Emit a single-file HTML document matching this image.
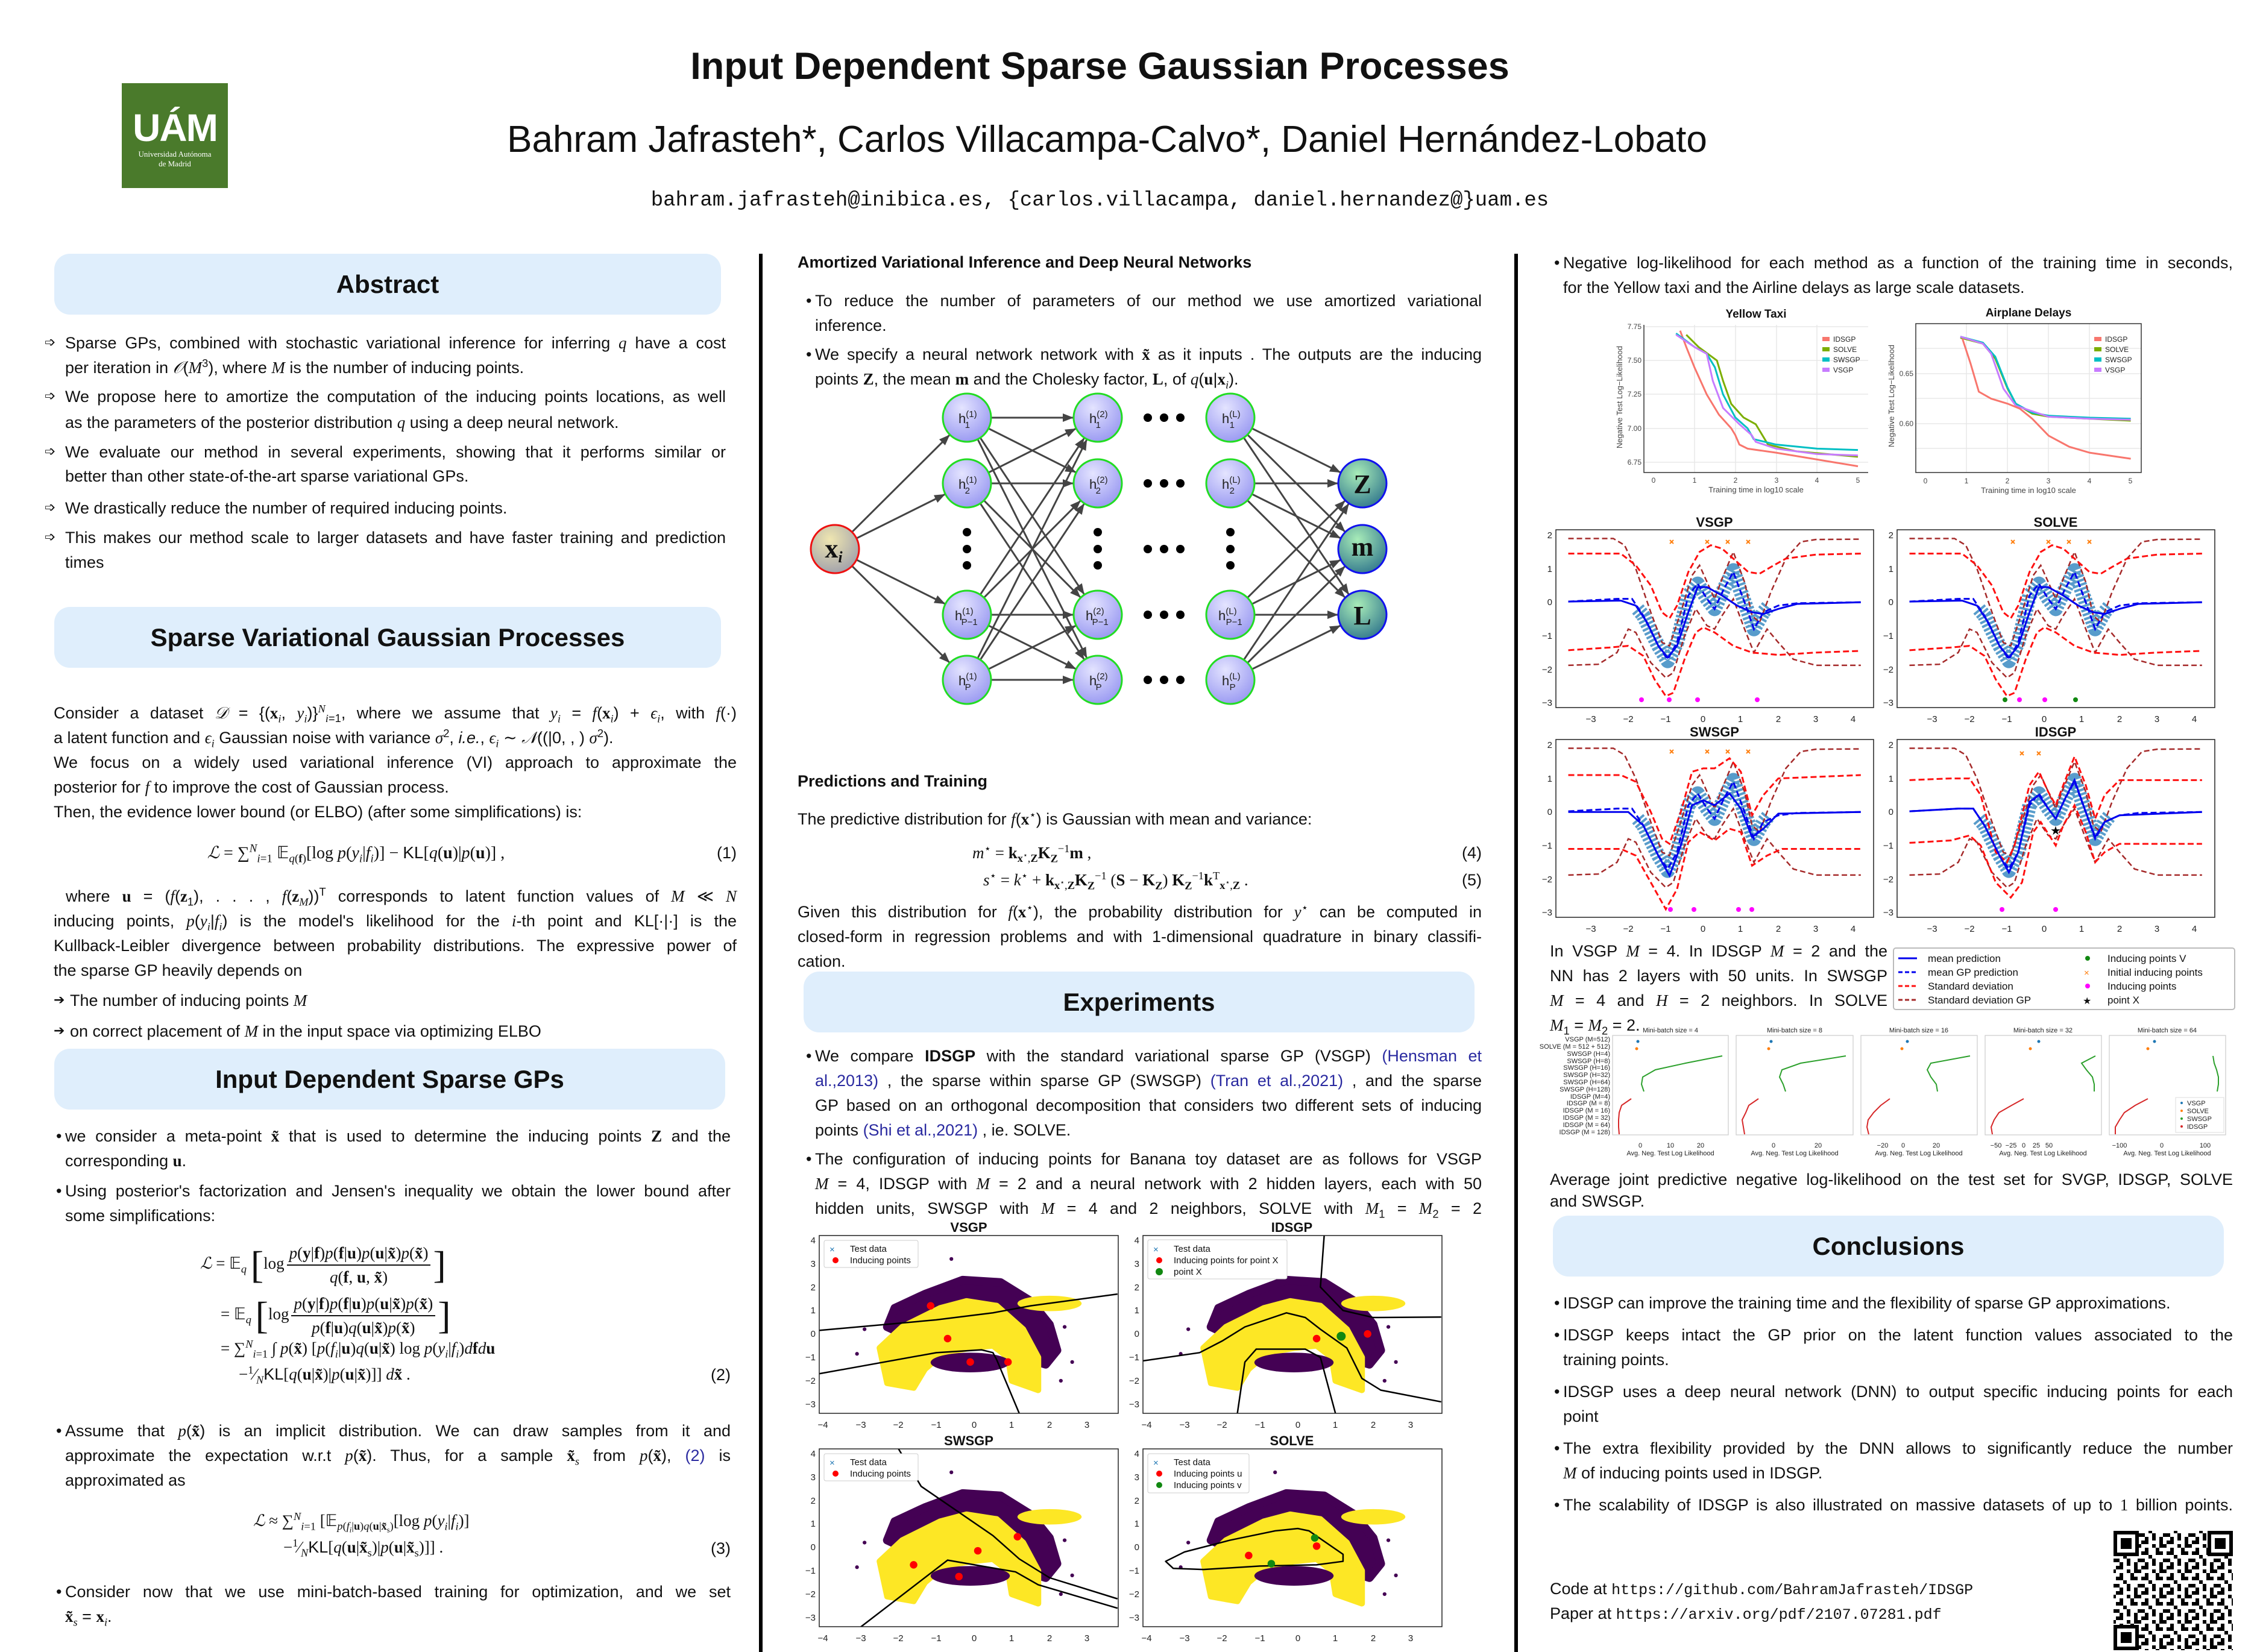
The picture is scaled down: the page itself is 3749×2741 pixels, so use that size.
<!DOCTYPE html>
<html><head><meta charset="utf-8">
<style>
html,body{margin:0;padding:0}
body{width:3749px;height:2741px;position:relative;overflow:hidden;background:#fff;font-family:"Liberation Sans",sans-serif;color:#111}
.a{position:absolute;white-space:nowrap}
.c{position:absolute}
.c>div{position:absolute;left:0;right:0;white-space:nowrap;font-size:27px;line-height:30px;height:30px}
.j{text-align:justify;text-align-last:justify}
.m{font-family:"Liberation Serif",serif;font-style:italic}
.mb{font-family:"Liberation Serif",serif;font-weight:bold}
.r{font-family:"Liberation Serif",serif}
.bl{position:absolute;left:-15px;top:0}
.ar{position:absolute;left:-34px;top:0;font-family:"DejaVu Sans",sans-serif;font-size:22px}
.box{position:absolute;background:#dfeefc;border-radius:26px;text-align:center;font-weight:bold;font-size:42px}
.lk{color:#2a2aa0}
.h{position:absolute;font-weight:bold;font-size:27px;white-space:nowrap}
sub,sup{font-size:0.68em;line-height:0}
.eq{position:absolute;white-space:nowrap;font-size:27px;font-family:"Liberation Serif",serif}
.fr{display:inline-flex;flex-direction:column;align-items:center;vertical-align:middle;margin:0 4px}
.fr>span{display:block;padding:0 4px;line-height:38px}
.fr>span:first-child{border-bottom:2px solid #111}
.big{font-size:64px;font-weight:100;vertical-align:middle;line-height:40px}
</style></head><body>

<!-- header -->
<div style="position:absolute;left:202px;top:138px;width:176px;height:174px;background:#4a7a2b;color:#fff;text-align:center;font-family:'Liberation Serif',serif">
<div style="font-family:'Liberation Sans',sans-serif;font-weight:bold;font-size:64px;margin-top:42px;line-height:64px;letter-spacing:-2px">UÁM</div>
<div style="font-size:13px;line-height:16px;margin-top:4px">Universidad Autónoma<br>de Madrid</div>
</div>
<div class="a" style="left:0;width:3749px;top:74px;text-align:center;font-size:63px;font-weight:bold"><span style="position:relative;left:-50px">Input Dependent Sparse Gaussian Processes</span></div>
<div class="a" style="left:0;width:3749px;top:196px;text-align:center;font-size:62px"><span style="position:relative;left:-38px">Bahram Jafrasteh*, Carlos Villacampa-Calvo*, Daniel Hernández-Lobato</span></div>
<div class="a" style="left:0;width:3749px;top:314px;text-align:center;font-size:34px;font-family:'Liberation Mono',monospace"><span style="position:relative;left:-50px">bahram.jafrasteh@inibica.es, {carlos.villacampa, daniel.hernandez@}uam.es</span></div>

<!-- dividers -->
<div style="position:absolute;left:1259px;top:421px;width:6px;height:2320px;background:#000"></div>
<div style="position:absolute;left:2512px;top:421px;width:6px;height:2320px;background:#000"></div>

<!-- ===== Column 1 ===== -->
<div class="box" style="left:90px;top:421px;width:1106px;height:101px;line-height:101px">Abstract</div>
<div class="c" style="left:108px;width:1096px;top:0">
<div class="j" style="top:554px"><span class="ar">➩</span>Sparse GPs, combined with stochastic variational inference for inferring <span class="m">q</span> have a cost</div>
<div style="top:595px">per iteration in <span class="m">𝒪</span>(<span class="m">M</span><sup>3</sup>), where <span class="m">M</span> is the number of inducing points.</div>
<div class="j" style="top:643px"><span class="ar">➩</span>We propose here to amortize the computation of the inducing points locations, as well</div>
<div style="top:686px">as the parameters of the posterior distribution <span class="m">q</span> using a deep neural network.</div>
<div class="j" style="top:735px"><span class="ar">➩</span>We evaluate our method in several experiments, showing that it performs similar or</div>
<div style="top:775px">better than other state-of-the-art sparse variational GPs.</div>
<div style="top:828px"><span class="ar">➩</span>We drastically reduce the number of required inducing points.</div>
<div class="j" style="top:877px"><span class="ar">➩</span>This makes our method scale to larger datasets and have faster training and prediction</div>
<div style="top:918px">times</div>
</div>

<div class="box" style="left:90px;top:1007px;width:1106px;height:101px;line-height:101px">Sparse Variational Gaussian Processes</div>
<div class="c" style="left:89px;width:1133px;top:0">
<div class="j" style="top:1168px">Consider a dataset <span class="m">𝒟</span> = {(<b class="mb">x</b><sub class="m">i</sub>, <span class="m">y<sub>i</sub></span>)}<sup class="m">N</sup><sub><span class="m">i</span>=1</sub>, where we assume that <span class="m">y<sub>i</sub></span> = <span class="m">f</span>(<b class="mb">x</b><sub class="m">i</sub>) + <span class="m">ϵ<sub>i</sub></span>, with <span class="m">f</span>(·)</div>
<div style="top:1209px">a latent function and <span class="m">ϵ<sub>i</sub></span> Gaussian noise with variance <span class="m">σ</span><sup>2</sup>, <i>i.e.</i>, <span class="m">ϵ<sub>i</sub></span> ∼ <span class="m">𝒩</span>((|0, , ) <span class="m">σ</span><sup>2</sup>).</div>
<div class="j" style="top:1250px">We focus on a widely used variational inference (VI) approach to approximate the</div>
<div style="top:1291px">posterior for <span class="m">f</span> to improve the cost of Gaussian process.</div>
<div style="top:1332px">Then, the evidence lower bound (or ELBO) (after some simplifications) is:</div>
<div style="top:1400px;text-align:center;left:-130px;font-family:'Liberation Serif',serif;font-size:28px"><span class="m">ℒ</span> = ∑<sup class="m">N</sup><sub><span class="m">i</span>=1</sub> 𝔼<sub><span class="m">q</span>(<b>f</b>)</sub>[log <span class="m">p</span>(<span class="m">y<sub>i</sub></span>|<span class="m">f<sub>i</sub></span>)] − <span style="font-family:'Liberation Sans'">KL</span>[<span class="m">q</span>(<b>u</b>)|<span class="m">p</span>(<b>u</b>)] ,</div>
<div style="top:1400px;text-align:right">(1)</div>
<div class="j" style="top:1472px">&nbsp;where <b class="mb">u</b> = (<span class="m">f</span>(<b class="mb">z</b><sub>1</sub>), . . . , <span class="m">f</span>(<b class="mb">z</b><sub class="m">M</sub>))<sup>T</sup> corresponds to latent function values of <span class="m">M</span> ≪ <span class="m">N</span></div>
<div class="j" style="top:1513px">inducing points, <span class="m">p</span>(<span class="m">y<sub>i</sub></span>|<span class="m">f<sub>i</sub></span>) is the model's likelihood for the <span class="m">i</span>-th point and KL[·|·] is the</div>
<div class="j" style="top:1554px">Kullback-Leibler divergence between probability distributions. The expressive power of</div>
<div style="top:1595px">the sparse GP heavily depends on</div>
<div style="top:1645px;left:27px"><span class="ar" style="left:-27px">➔</span>The number of inducing points <span class="m">M</span></div>
<div style="top:1696px;left:27px"><span class="ar" style="left:-27px">➔</span>on correct placement of <span class="m">M</span> in the input space via optimizing ELBO</div>
</div>

<div class="box" style="left:90px;top:1740px;width:1113px;height:101px;line-height:101px">Input Dependent Sparse GPs</div>
<div class="c" style="left:108px;width:1104px;top:0">
<div class="j" style="top:1870px"><span class="bl">•</span>we consider a meta-point <b class="mb">x̃</b> that is used to determine the inducing points <b class="mb">Z</b> and the</div>
<div style="top:1911px">corresponding <b class="mb">u</b>.</div>
<div class="j" style="top:1961px"><span class="bl">•</span>Using posterior's factorization and Jensen's inequality we obtain the lower bound after</div>
<div style="top:2002px">some simplifications:</div>
<div class="j" style="top:2359px"><span class="bl">•</span>Assume that <span class="m">p</span>(<b class="mb">x̃</b>) is an implicit distribution. We can draw samples from it and</div>
<div class="j" style="top:2400px">approximate the expectation w.r.t <span class="m">p</span>(<b class="mb">x̃</b>). Thus, for a sample <b class="mb">x̃</b><sub class="m">s</sub> from <span class="m">p</span>(<b class="mb">x̃</b>), <span class="lk">(2)</span> is</div>
<div style="top:2441px">approximated as</div>
<div style="top:2554px;text-align:right">(3)</div>
<div class="j" style="top:2626px"><span class="bl">•</span>Consider now that we use mini-batch-based training for optimization, and we set</div>
<div style="top:2667px"><b class="mb">x̃</b><sub class="m">s</sub> = <b class="mb">x</b><sub class="m">i</sub>.</div>
<div style="top:2266px;text-align:right">(2)</div>
</div>
<!-- eq 2 -->
<div class="eq" style="left:332px;top:2060px"><span class="m">ℒ</span> = 𝔼<sub class="m">q</sub> <span class="big">[</span>log<span class="fr"><span><span class="m">p</span>(<b>y</b>|<b>f</b>)<span class="m">p</span>(<b>f</b>|<b>u</b>)<span class="m">p</span>(<b>u</b>|<b>x̃</b>)<span class="m">p</span>(<b>x̃</b>)</span><span><span class="m">q</span>(<b>f</b>, <b>u</b>, <b>x̃</b>)</span></span><span class="big">]</span></div>
<div class="eq" style="left:366px;top:2144px">= 𝔼<sub class="m">q</sub> <span class="big">[</span>log<span class="fr"><span><span class="m">p</span>(<b>y</b>|<b>f</b>)<span class="m">p</span>(<b>f</b>|<b>u</b>)<span class="m">p</span>(<b>u</b>|<b>x̃</b>)<span class="m">p</span>(<b>x̃</b>)</span><span><span class="m">p</span>(<b>f</b>|<b>u</b>)<span class="m">q</span>(<b>u</b>|<b>x̃</b>)<span class="m">p</span>(<b>x̃</b>)</span></span><span class="big">]</span></div>
<div class="eq" style="left:366px;top:2222px">= ∑<sup class="m">N</sup><sub><span class="m">i</span>=1</sub> ∫ <span class="m">p</span>(<b>x̃</b>) [<span class="m">p</span>(<span class="m">f<sub>i</sub></span>|<b>u</b>)<span class="m">q</span>(<b>u</b>|<b>x̃</b>) log <span class="m">p</span>(<span class="m">y<sub>i</sub></span>|<span class="m">f<sub>i</sub></span>)<span class="m">d</span><b>f</b><span class="m">d</span><b>u</b></div>
<div class="eq" style="left:396px;top:2265px">−<sup>1</sup>⁄<sub class="m">N</sub><span style="font-family:'Liberation Sans'">KL</span>[<span class="m">q</span>(<b>u</b>|<b>x̃</b>)|<span class="m">p</span>(<b>u</b>|<b>x̃</b>)]] <span class="m">d</span><b>x̃</b> .</div>
<!-- eq 3 -->
<div class="eq" style="left:420px;top:2508px"><span class="m">ℒ</span> ≈ ∑<sup class="m">N</sup><sub><span class="m">i</span>=1</sub> [𝔼<sub><span class="m">p</span>(<span class="m">f<sub>i</sub></span>|<b>u</b>)<span class="m">q</span>(<b>u</b>|<b>x̃</b><sub>s</sub>)</sub>[log <span class="m">p</span>(<span class="m">y<sub>i</sub></span>|<span class="m">f<sub>i</sub></span>)]</div>
<div class="eq" style="left:470px;top:2552px">−<sup>1</sup>⁄<sub class="m">N</sub><span style="font-family:'Liberation Sans'">KL</span>[<span class="m">q</span>(<b>u</b>|<b>x̃</b><sub>s</sub>)|<span class="m">p</span>(<b>u</b>|<b>x̃</b><sub>s</sub>)]] .</div>

<!-- ===== Column 2 ===== -->
<div class="h" style="left:1323px;top:420px">Amortized Variational Inference and Deep Neural Networks</div>
<div class="c" style="left:1352px;width:1106px;top:0">
<div class="j" style="top:484px"><span class="bl">•</span>To reduce the number of parameters of our method we use amortized variational</div>
<div style="top:525px">inference.</div>
<div class="j" style="top:573px"><span class="bl">•</span>We specify a neural network network with <b class="mb">x̃</b> as it inputs . The outputs are the inducing</div>
<div style="top:614px">points <b class="mb">Z</b>, the mean <b class="mb">m</b> and the Cholesky factor, <b class="mb">L</b>, of <span class="m">q</span>(<b class="mb">u</b>|<b class="mb">x</b><sub class="m">i</sub>).</div>
</div>
<div class="h" style="left:1323px;top:1281px">Predictions and Training</div>
<div class="c" style="left:1323px;width:1135px;top:0">
<div style="top:1344px">The predictive distribution for <span class="m">f</span>(<b class="mb">x</b><sup>⋆</sup>) is Gaussian with mean and variance:</div>
<div style="top:1400px;left:290px;font-family:'Liberation Serif',serif"><span class="m">m</span><sup>⋆</sup> = <b>k</b><sub><b>x</b><sup>⋆</sup>,<b>Z</b></sub><b>K</b><sub><b>Z</b></sub><sup>−1</sup><b>m</b> ,</div>
<div style="top:1400px;text-align:right">(4)</div>
<div style="top:1445px;left:308px;font-family:'Liberation Serif',serif"><span class="m">s</span><sup>⋆</sup> = <span class="m">k</span><sup>⋆</sup> + <b>k</b><sub><b>x</b><sup>⋆</sup>,<b>Z</b></sub><b>K</b><sub><b>Z</b></sub><sup>−1</sup> (<b>S</b> − <b>K</b><sub><b>Z</b></sub>) <b>K</b><sub><b>Z</b></sub><sup>−1</sup><b>k</b><sup>T</sup><sub><b>x</b><sup>⋆</sup>,<b>Z</b></sub> .</div>
<div style="top:1445px;text-align:right">(5)</div>
<div class="j" style="top:1498px">Given this distribution for <span class="m">f</span>(<b class="mb">x</b><sup>⋆</sup>), the probability distribution for <span class="m">y</span><sup>⋆</sup> can be computed in</div>
<div class="j" style="top:1539px">closed-form in regression problems and with 1-dimensional quadrature in binary classifi-</div>
<div style="top:1580px">cation.</div>
</div>
<div class="box" style="left:1333px;top:1612px;width:1113px;height:101px;line-height:101px">Experiments</div>
<div class="c" style="left:1352px;width:1106px;top:0">
<div class="j" style="top:1737px"><span class="bl">•</span>We compare <b>IDSGP</b> with the standard variational sparse GP (VSGP) <span class="lk">(Hensman et</span></div>
<div class="j" style="top:1778px"><span class="lk">al.,2013)</span> , the sparse within sparse GP (SWSGP) <span class="lk">(Tran et al.,2021)</span> , and the sparse</div>
<div class="j" style="top:1819px">GP based on an orthogonal decomposition that considers two different sets of inducing</div>
<div style="top:1860px">points <span class="lk">(Shi et al.,2021)</span> , ie. SOLVE.</div>
<div class="j" style="top:1908px"><span class="bl">•</span>The configuration of inducing points for Banana toy dataset are as follows for VSGP</div>
<div class="j" style="top:1949px"><span class="m">M</span> = 4, IDSGP with <span class="m">M</span> = 2 and a neural network with 2 hidden layers, each with 50</div>
<div class="j" style="top:1990px">hidden units, SWSGP with <span class="m">M</span> = 4 and 2 neighbors, SOLVE with <span class="m">M</span><sub>1</sub> = <span class="m">M</span><sub>2</sub> = 2</div>
</div>

<!-- ===== Column 3 ===== -->
<div class="c" style="left:2593px;width:1111px;top:0">
<div class="j" style="top:421px"><span class="bl">•</span>Negative log-likelihood for each method as a function of the training time in seconds,</div>
<div style="top:462px">for the Yellow taxi and the Airline delays as large scale datasets.</div>
</div>
<div class="c" style="left:2571px;width:560px;top:0">
<div class="j" style="top:1563px">In VSGP <span class="m">M</span> = 4. In IDSGP <span class="m">M</span> = 2 and the</div>
<div class="j" style="top:1604px">NN has 2 layers with 50 units. In SWSGP</div>
<div class="j" style="top:1645px"><span class="m">M</span> = 4 and <span class="m">H</span> = 2 neighbors. In SOLVE</div>
<div style="top:1686px"><span class="m">M</span><sub>1</sub> = <span class="m">M</span><sub>2</sub> = 2.</div>
</div>
<div class="c" style="left:2571px;width:1133px;top:0">
<div class="j" style="top:1942px">Average joint predictive negative log-likelihood on the test set for SVGP, IDSGP, SOLVE</div>
<div style="top:1978px">and SWSGP.</div>
</div>
<div class="box" style="left:2576px;top:2017px;width:1113px;height:101px;line-height:101px">Conclusions</div>
<div class="c" style="left:2593px;width:1111px;top:0">
<div style="top:2147px"><span class="bl">•</span>IDSGP can improve the training time and the flexibility of sparse GP approximations.</div>
<div class="j" style="top:2200px"><span class="bl">•</span>IDSGP keeps intact the GP prior on the latent function values associated to the</div>
<div style="top:2241px">training points.</div>
<div class="j" style="top:2294px"><span class="bl">•</span>IDSGP uses a deep neural network (DNN) to output specific inducing points for each</div>
<div style="top:2335px">point</div>
<div class="j" style="top:2388px"><span class="bl">•</span>The extra flexibility provided by the DNN allows to significantly reduce the number</div>
<div style="top:2429px"><span class="m">M</span> of inducing points used in IDSGP.</div>
<div class="j" style="top:2482px"><span class="bl">•</span>The scalability of IDSGP is also illustrated on massive datasets of up to <span class="r">1</span> billion points.</div>
</div>
<div class="a" style="left:2571px;top:2621px;font-size:27px">Code at <span style="font-family:'Liberation Mono',monospace;font-size:25px">https://github.com/BahramJafrasteh/IDSGP</span></div>
<div class="a" style="left:2571px;top:2662px;font-size:27px">Paper at <span style="font-family:'Liberation Mono',monospace;font-size:25px">https://arxiv.org/pdf/2107.07281.pdf</span></div>

<!-- ===== Graphics ===== -->
<svg style="position:absolute;left:0;top:0" width="3749" height="2741" viewBox="0 0 3749 2741" font-family="Liberation Sans, sans-serif">
<defs>
<marker id="ah" markerUnits="userSpaceOnUse" markerWidth="20" markerHeight="14" refX="58" refY="7" orient="auto" overflow="visible"><path d="M0,0 L18,7 L0,14 z" fill="#444"/></marker>
<radialGradient id="gh" cx="40%" cy="30%" r="70%"><stop offset="0" stop-color="#e4e4ff"/><stop offset="1" stop-color="#9c9cf2"/></radialGradient>
<radialGradient id="gx" cx="40%" cy="30%" r="70%"><stop offset="0" stop-color="#efe6b0"/><stop offset="1" stop-color="#a4a4ac"/></radialGradient>
<radialGradient id="go" cx="40%" cy="30%" r="70%"><stop offset="0" stop-color="#a8ecb8"/><stop offset="1" stop-color="#3a8090"/></radialGradient>
<pattern id="qr" width="42" height="42" patternUnits="userSpaceOnUse"><rect width="42" height="42" fill="#fff"/><g fill="#000"><rect x="0" y="0" width="6" height="6"/><rect x="12" y="0" width="12" height="6"/><rect x="30" y="6" width="6" height="12"/><rect x="6" y="12" width="12" height="6"/><rect x="0" y="24" width="6" height="12"/><rect x="18" y="24" width="12" height="6"/><rect x="36" y="18" width="6" height="6"/><rect x="12" y="30" width="6" height="12"/><rect x="24" y="36" width="12" height="6"/><rect x="30" y="30" width="6" height="6"/><rect x="6" y="6" width="6" height="6"/><rect x="24" y="12" width="6" height="6"/></g></pattern>

<symbol id="gpbase" viewBox="-3.93 -2.16 8.47 5.3" preserveAspectRatio="none">
<polyline points="-1.75,0.2 -1.6,0.4 -1.2,1.3 -0.95,1.75 -0.7,1.2 -0.4,-0.2 -0.15,-0.55 0.1,-0.1 0.3,0.2 0.55,-0.4 0.8,-0.95 1.1,0 1.35,0.8 1.6,0.3 1.75,0.1" fill="none" stroke="#3b8bc2" stroke-width="24" stroke-dasharray="4 3" stroke-opacity="0.85" vector-effect="non-scaling-stroke" stroke-linejoin="round"/>
<polyline points="-3.6,-1.9 -2.4,-1.9 -2.1,-1.7 -1.8,-1 -1.4,0.3 -1.1,1.2 -0.9,1.3 -0.6,0.3 -0.3,-0.8 -0.1,-1.1 0.1,-0.6 0.3,-0.1 0.5,-0.7 0.8,-1.5 1.1,-0.6 1.3,0.4 1.5,0.6 1.8,-0.3 2.2,-1.3 2.6,-1.8 3,-1.87 4.2,-1.88" fill="none" stroke="#a52a2a" stroke-width="2.5" stroke-dasharray="9 5" vector-effect="non-scaling-stroke"/>
<polyline points="-3.6,1.88 -2.8,1.85 -2.3,1.5 -2,0.8 -1.8,0.9 -1.4,1.8 -1,2.25 -0.8,2.1 -0.5,1 -0.2,0.2 0.1,0.7 0.3,0.8 0.5,0.4 0.8,-0.1 1.1,0.8 1.35,1.5 1.5,1.2 1.7,0.8 2,1.2 2.4,1.7 3,1.88 4.2,1.88" fill="none" stroke="#a52a2a" stroke-width="2.5" stroke-dasharray="9 5" vector-effect="non-scaling-stroke"/>
<polyline points="-3.6,-0.02 -2.3,-0.1 -1.9,-0.1 -1.6,0.4 -1.2,1.3 -0.95,1.7 -0.7,1.2 -0.4,-0.2 -0.15,-0.55 0.1,-0.1 0.3,0.2 0.55,-0.4 0.8,-0.9 1.1,0 1.35,0.8 1.6,0.3 2,0.1 2.5,0.03 4.2,0" fill="none" stroke="#0000ee" stroke-width="3" stroke-dasharray="10 5" vector-effect="non-scaling-stroke"/>
</symbol>
<symbol id="gpA" viewBox="-3.93 -2.16 8.47 5.3" preserveAspectRatio="none">
<polyline points="-3.6,-1.45 -2.2,-1.45 -1.8,-1.1 -1.4,-0.5 -1.1,0.3 -0.9,0.48 -0.7,0.1 -0.4,-0.9 -0.1,-1.5 0.2,-1.7 0.5,-1.6 0.9,-1.2 1.2,-0.9 1.5,-0.85 1.8,-1.05 2.2,-1.3 3,-1.42 4.2,-1.45" fill="none" stroke="#ff1010" stroke-width="3" stroke-dasharray="10 5" vector-effect="non-scaling-stroke"/>
<polyline points="-3.6,1.43 -2.5,1.35 -2,1.3 -1.6,1.6 -1.3,2.3 -1,2.8 -0.8,2.7 -0.5,1.7 -0.2,0.9 0,0.75 0.3,0.9 0.8,1.3 1.3,1.5 2,1.57 3,1.5 4.2,1.45" fill="none" stroke="#ff1010" stroke-width="3" stroke-dasharray="10 5" vector-effect="non-scaling-stroke"/>
<polyline points="-3.6,-0.02 -2.2,-0.05 -1.8,0.1 -1.5,0.6 -1.2,1.3 -0.95,1.65 -0.7,1.3 -0.4,0.3 -0.15,-0.45 0.1,-0.45 0.5,-0.2 0.9,0.1 1.3,0.3 1.6,0.35 2,0.2 2.5,0.05 4.2,0" fill="none" stroke="#0000ee" stroke-width="3" vector-effect="non-scaling-stroke"/>
</symbol>
<symbol id="gpS" viewBox="-3.93 -2.16 8.47 5.3" preserveAspectRatio="none">
<polyline points="-3.6,-1.1 -2.2,-1.1 -1.8,-0.9 -1.4,0 -1.1,0.8 -0.9,0.95 -0.6,0 -0.3,-1.2 0,-1.3 0.3,-1.3 0.7,-1.6 1,-1.2 1.3,0.1 1.6,-0.5 2,-1 4.2,-1.1" fill="none" stroke="#ff1010" stroke-width="3" stroke-dasharray="10 5" vector-effect="non-scaling-stroke"/>
<polyline points="-3.6,1.1 -2.2,1.1 -1.8,1.3 -1.4,2.1 -1,2.9 -0.7,2.3 -0.4,0.9 -0.1,0.6 0.3,0.85 0.7,0.5 1,0.6 1.3,1.6 1.7,1.3 2.1,1.1 4.2,1.1" fill="none" stroke="#ff1010" stroke-width="3" stroke-dasharray="10 5" vector-effect="non-scaling-stroke"/>
<polyline points="-3.6,0 -2,0 -1.6,0.4 -1.2,1.3 -0.9,1.9 -0.6,1 -0.3,-0.2 0,-0.35 0.3,-0.2 0.7,-0.55 1,-0.1 1.3,0.75 1.6,0.5 2,0.05 4.2,0" fill="none" stroke="#0000ee" stroke-width="3" vector-effect="non-scaling-stroke"/>
</symbol>
<symbol id="gpI" viewBox="-3.93 -2.16 8.47 5.3" preserveAspectRatio="none">
<polyline points="-3.6,-0.95 -2.5,-1 -2,-1 -1.7,-0.5 -1.3,1.2 -1,1.5 -0.8,1 -0.4,-0.8 -0.15,-1.2 0.1,-0.6 0.3,-0.2 0.5,-0.8 0.8,-1.65 1.1,-0.8 1.35,0.2 1.6,-0.5 2,-0.95 4.2,-0.95" fill="none" stroke="#ff1010" stroke-width="3" stroke-dasharray="10 5" vector-effect="non-scaling-stroke"/>
<polyline points="-3.6,0.92 -2.5,0.85 -2,0.7 -1.7,1 -1.3,2.1 -0.9,2.55 -0.6,2.1 -0.3,0.6 -0.1,0.3 0.3,1 0.5,0.4 0.8,-0.2 1.1,0.6 1.35,1.5 1.6,1.2 2,0.95 4.2,0.95" fill="none" stroke="#ff1010" stroke-width="3" stroke-dasharray="10 5" vector-effect="non-scaling-stroke"/>
<polyline points="-3.6,-0.02 -2.3,-0.1 -1.9,-0.1 -1.6,0.4 -1.2,1.3 -0.95,1.8 -0.7,1.2 -0.4,-0.3 -0.15,-0.5 0.1,-0.1 0.3,0.2 0.55,-0.4 0.8,-0.95 1.1,0 1.35,0.75 1.6,0.3 2,0.1 4.2,0" fill="none" stroke="#0000ee" stroke-width="3" vector-effect="non-scaling-stroke"/>
</symbol>
<g id="gpax" font-size="15" fill="#222">
<rect x="0" y="0" width="527" height="295" fill="none" stroke="#222" stroke-width="1.5"/>
<text x="58" y="319" text-anchor="middle">−3</text><text x="120" y="319" text-anchor="middle">−2</text><text x="182" y="319" text-anchor="middle">−1</text><text x="244" y="319" text-anchor="middle">0</text><text x="306" y="319" text-anchor="middle">1</text><text x="369" y="319" text-anchor="middle">2</text><text x="431" y="319" text-anchor="middle">3</text><text x="493" y="319" text-anchor="middle">4</text>
<text x="-6" y="14" text-anchor="end">2</text><text x="-6" y="70" text-anchor="end">1</text><text x="-6" y="125" text-anchor="end">0</text><text x="-6" y="181" text-anchor="end">−1</text><text x="-6" y="237" text-anchor="end">−2</text><text x="-6" y="292" text-anchor="end">−3</text>
</g>

<symbol id="ban" viewBox="-4.1 -4.2 7.92 7.59" preserveAspectRatio="none">
<polygon points="-2.3,-0.3 -2.1,-1.1 -1.3,-1.7 -0.3,-2.3 0.7,-2.2 1.5,-1.4 2.0,-0.4 2.2,0.7 1.9,1.3 1.3,1.0 0.5,0.3 -1.5,0.3" fill="#440154" stroke="#440154" stroke-width="14" stroke-linejoin="round" vector-effect="non-scaling-stroke"/>
<polygon points="-2.3,2.1 -2.5,0.6 -1.9,-0.3 -0.9,-1.1 -0.2,-1.4 0.6,-1.2 1.3,-0.2 1.7,1.0 1.7,2.4 1.0,2.0 0.9,1.0 0.5,0.5 -0.1,0.6 -0.8,0.8 -1.3,1.5 -1.6,2.3" fill="#fde725" stroke="#fde725" stroke-width="10" stroke-linejoin="round" vector-effect="non-scaling-stroke"/>
<ellipse cx="2.0" cy="-1.3" rx="0.85" ry="0.33" fill="#fde725"/>
<ellipse cx="-0.1" cy="1.22" rx="1.05" ry="0.42" fill="#440154"/>
<g fill="#440154"><ellipse cx="-3.1" cy="0.85" rx="0.05" ry="0.08"/><ellipse cx="2.3" cy="2" rx="0.05" ry="0.08"/><ellipse cx="2.6" cy="1.2" rx="0.05" ry="0.08"/><ellipse cx="-0.6" cy="-3.2" rx="0.05" ry="0.08"/><ellipse cx="-2.9" cy="-0.2" rx="0.05" ry="0.08"/><ellipse cx="2.4" cy="-0.3" rx="0.05" ry="0.08"/></g>
</symbol>
<g id="banax" font-size="15" fill="#222">
<rect x="0" y="0" width="496" height="295" fill="none" stroke="#222" stroke-width="1.5"/>
<text x="6" y="319" text-anchor="middle">−4</text><text x="69" y="319" text-anchor="middle">−3</text><text x="131" y="319" text-anchor="middle">−2</text><text x="194" y="319" text-anchor="middle">−1</text><text x="257" y="319" text-anchor="middle">0</text><text x="319" y="319" text-anchor="middle">1</text><text x="382" y="319" text-anchor="middle">2</text><text x="444" y="319" text-anchor="middle">3</text>
<text x="-6" y="13" text-anchor="end">4</text><text x="-6" y="52" text-anchor="end">3</text><text x="-6" y="91" text-anchor="end">2</text><text x="-6" y="129" text-anchor="end">1</text><text x="-6" y="168" text-anchor="end">0</text><text x="-6" y="207" text-anchor="end">−1</text><text x="-6" y="246" text-anchor="end">−2</text><text x="-6" y="285" text-anchor="end">−3</text>
</g>
</defs>

<!-- Network -->
<g stroke="#444" stroke-width="3" marker-end="url(#ah)">
<line x1="1385" y1="911" x2="1604" y2="693"/><line x1="1385" y1="911" x2="1604" y2="802"/><line x1="1385" y1="911" x2="1604" y2="1020"/><line x1="1385" y1="911" x2="1604" y2="1128"/>
<line x1="1604" y1="693" x2="1821" y2="693"/><line x1="1604" y1="693" x2="1821" y2="802"/><line x1="1604" y1="693" x2="1821" y2="1020"/><line x1="1604" y1="693" x2="1821" y2="1128"/>
<line x1="1604" y1="802" x2="1821" y2="693"/><line x1="1604" y1="802" x2="1821" y2="802"/><line x1="1604" y1="802" x2="1821" y2="1020"/><line x1="1604" y1="802" x2="1821" y2="1128"/>
<line x1="1604" y1="1020" x2="1821" y2="693"/><line x1="1604" y1="1020" x2="1821" y2="802"/><line x1="1604" y1="1020" x2="1821" y2="1020"/><line x1="1604" y1="1020" x2="1821" y2="1128"/>
<line x1="1604" y1="1128" x2="1821" y2="693"/><line x1="1604" y1="1128" x2="1821" y2="802"/><line x1="1604" y1="1128" x2="1821" y2="1020"/><line x1="1604" y1="1128" x2="1821" y2="1128"/>
<line x1="2041" y1="693" x2="2260" y2="802"/><line x1="2041" y1="693" x2="2260" y2="911"/><line x1="2041" y1="693" x2="2260" y2="1020"/>
<line x1="2041" y1="802" x2="2260" y2="802"/><line x1="2041" y1="802" x2="2260" y2="911"/><line x1="2041" y1="802" x2="2260" y2="1020"/>
<line x1="2041" y1="1020" x2="2260" y2="802"/><line x1="2041" y1="1020" x2="2260" y2="911"/><line x1="2041" y1="1020" x2="2260" y2="1020"/>
<line x1="2041" y1="1128" x2="2260" y2="802"/><line x1="2041" y1="1128" x2="2260" y2="911"/><line x1="2041" y1="1128" x2="2260" y2="1020"/>
</g>
<g stroke="#22dd22" stroke-width="3" fill="url(#gh)">
<circle cx="1604" cy="693" r="40"/><circle cx="1604" cy="802" r="40"/><circle cx="1604" cy="1020" r="40"/><circle cx="1604" cy="1128" r="40"/>
<circle cx="1821" cy="693" r="40"/><circle cx="1821" cy="802" r="40"/><circle cx="1821" cy="1020" r="40"/><circle cx="1821" cy="1128" r="40"/>
<circle cx="2041" cy="693" r="40"/><circle cx="2041" cy="802" r="40"/><circle cx="2041" cy="1020" r="40"/><circle cx="2041" cy="1128" r="40"/>
</g>
<circle cx="1385" cy="911" r="40" fill="url(#gx)" stroke="#ee1111" stroke-width="3"/>
<g stroke="#1111ee" stroke-width="3" fill="url(#go)"><circle cx="2260" cy="802" r="40"/><circle cx="2260" cy="911" r="40"/><circle cx="2260" cy="1020" r="40"/></g>
<g font-family="Liberation Serif, serif" font-weight="bold" font-size="44" text-anchor="middle" fill="#111">
<text x="1383" y="925">x<tspan font-size="26" font-style="italic" dy="8">i</tspan></text>
<text x="2260" y="818">Z</text><text x="2260" y="922">m</text><text x="2260" y="1036">L</text>
</g>
<g font-size="22" fill="#222">
<text x="1590" y="702">h<tspan font-size="15" dy="-10">(1)</tspan><tspan font-size="15" dx="-20" dy="18">1</tspan></text>
<text x="1590" y="811">h<tspan font-size="15" dy="-10">(1)</tspan><tspan font-size="15" dx="-20" dy="18">2</tspan></text>
<text x="1584" y="1029">h<tspan font-size="15" dy="-10">(1)</tspan><tspan font-size="15" dx="-20" dy="18">P−1</tspan></text>
<text x="1590" y="1137">h<tspan font-size="15" dy="-10">(1)</tspan><tspan font-size="15" dx="-20" dy="18">P</tspan></text>
<text x="1807" y="702">h<tspan font-size="15" dy="-10">(2)</tspan><tspan font-size="15" dx="-20" dy="18">1</tspan></text>
<text x="1807" y="811">h<tspan font-size="15" dy="-10">(2)</tspan><tspan font-size="15" dx="-20" dy="18">2</tspan></text>
<text x="1801" y="1029">h<tspan font-size="15" dy="-10">(2)</tspan><tspan font-size="15" dx="-20" dy="18">P−1</tspan></text>
<text x="1807" y="1137">h<tspan font-size="15" dy="-10">(2)</tspan><tspan font-size="15" dx="-20" dy="18">P</tspan></text>
<text x="2027" y="702">h<tspan font-size="15" dy="-10">(L)</tspan><tspan font-size="15" dx="-18" dy="18">1</tspan></text>
<text x="2027" y="811">h<tspan font-size="15" dy="-10">(L)</tspan><tspan font-size="15" dx="-18" dy="18">2</tspan></text>
<text x="2021" y="1029">h<tspan font-size="15" dy="-10">(L)</tspan><tspan font-size="15" dx="-18" dy="18">P−1</tspan></text>
<text x="2027" y="1137">h<tspan font-size="15" dy="-10">(L)</tspan><tspan font-size="15" dx="-18" dy="18">P</tspan></text>
</g>
<g fill="#000">
<circle cx="1604" cy="883" r="7"/><circle cx="1604" cy="911" r="7"/><circle cx="1604" cy="938" r="7"/>
<circle cx="1821" cy="883" r="7"/><circle cx="1821" cy="911" r="7"/><circle cx="1821" cy="938" r="7"/>
<circle cx="2041" cy="883" r="7"/><circle cx="2041" cy="911" r="7"/><circle cx="2041" cy="938" r="7"/>
<circle cx="1904" cy="693" r="7"/><circle cx="1931" cy="693" r="7"/><circle cx="1958" cy="693" r="7"/>
<circle cx="1904" cy="802" r="7"/><circle cx="1931" cy="802" r="7"/><circle cx="1958" cy="802" r="7"/>
<circle cx="1904" cy="911" r="7"/><circle cx="1931" cy="911" r="7"/><circle cx="1958" cy="911" r="7"/>
<circle cx="1904" cy="1020" r="7"/><circle cx="1931" cy="1020" r="7"/><circle cx="1958" cy="1020" r="7"/>
<circle cx="1904" cy="1128" r="7"/><circle cx="1931" cy="1128" r="7"/><circle cx="1958" cy="1128" r="7"/>
</g>

<!-- Banana plots -->
<g font-weight="bold" font-size="22" text-anchor="middle" fill="#111">
<text x="1607" y="2044">VSGP</text><text x="2143" y="2044">IDSGP</text><text x="1607" y="2398">SWSGP</text><text x="2143" y="2398">SOLVE</text>
</g>
<g transform="translate(1359,2050)">
<use href="#ban" x="0" y="0" width="496" height="295"/>
<svg x="0" y="0" width="496" height="295" viewBox="-4.1 -4.2 7.92 7.59" preserveAspectRatio="none">
<polyline points="-4.1,-0.15 -1,-0.6 0.5,-0.9 1.5,-1.2 3.8,-1.7" fill="none" stroke="#000" stroke-width="2.5" vector-effect="non-scaling-stroke"/>
<polyline points="-4.1,1.7 -1,0.8 0.2,0.68 0.5,0.8 0.6,1.1 1.2,3.4" fill="none" stroke="#000" stroke-width="2.5" vector-effect="non-scaling-stroke"/>
<g fill="#ff0000"><ellipse cx="-1.15" cy="-1.2" rx="0.1" ry="0.16"/><ellipse cx="-0.7" cy="0.2" rx="0.1" ry="0.16"/><ellipse cx="-0.1" cy="1.2" rx="0.1" ry="0.16"/><ellipse cx="0.9" cy="1.2" rx="0.1" ry="0.16"/></g>
</svg>
<use href="#banax"/>
</g>
<g transform="translate(1896,2050)">
<use href="#ban" x="0" y="0" width="496" height="295"/>
<svg x="0" y="0" width="496" height="295" viewBox="-4.1 -4.2 7.92 7.59" preserveAspectRatio="none">
<polyline points="-4.1,1.15 -2.6,0.8 -2,0.3 -1.4,-0.3 -0.3,-0.9 0.2,-0.7 0.6,-0.2 1.3,0.6 1.7,1.9 2.2,2.4 3.8,2.9" fill="none" stroke="#000" stroke-width="2.5" vector-effect="non-scaling-stroke"/>
<polyline points="0.7,-4.2 0.6,-2 1.2,-1 2,-0.7 3.8,-0.72" fill="none" stroke="#000" stroke-width="2.5" vector-effect="non-scaling-stroke"/>
<polyline points="-1.6,3.4 -1.4,1.2 -1.1,0.65 0.2,0.65 0.6,1 1,3.4" fill="none" stroke="#000" stroke-width="2.5" vector-effect="non-scaling-stroke"/>
<g fill="#ff0000"><ellipse cx="0.5" cy="0.2" rx="0.1" ry="0.16"/><ellipse cx="1.85" cy="0" rx="0.1" ry="0.16"/></g>
<ellipse cx="1.15" cy="0.1" rx="0.12" ry="0.19" fill="#118811"/>
</svg>
<use href="#banax"/>
</g>
<g transform="translate(1359,2404)">
<use href="#ban" x="0" y="0" width="496" height="295"/>
<svg x="0" y="0" width="496" height="295" viewBox="-4.1 -4.2 7.92 7.59" preserveAspectRatio="none">
<polyline points="-2,-4.2 -1.4,-2.6 0.5,-0.5 1.2,0.5 2,1.3 3.8,2.2" fill="none" stroke="#000" stroke-width="2.5" vector-effect="non-scaling-stroke"/>
<polyline points="-3,3.4 -0.7,0.55 0.2,0.8 1.1,1.05 1.7,1.6 3.8,2.6" fill="none" stroke="#000" stroke-width="2.5" vector-effect="non-scaling-stroke"/>
<g fill="#ff0000"><ellipse cx="-1.6" cy="0.75" rx="0.1" ry="0.16"/><ellipse cx="0.1" cy="0.15" rx="0.1" ry="0.16"/><ellipse cx="1.15" cy="-0.45" rx="0.1" ry="0.16"/><ellipse cx="-0.4" cy="1.25" rx="0.1" ry="0.16"/></g>
</svg>
<use href="#banax"/>
</g>
<g transform="translate(1896,2404)">
<use href="#ban" x="0" y="0" width="496" height="295"/>
<svg x="0" y="0" width="496" height="295" viewBox="-4.1 -4.2 7.92 7.59" preserveAspectRatio="none">
<polygon points="-3.5,0.6 -3.3,0.9 -2.5,0.95 -1,0.8 0.5,0.75 1.2,0.6 1.2,0.3 0.3,-0.7 0,-0.8 -0.6,-0.7 -1.8,-0.3 -3,0.2" fill="none" stroke="#000" stroke-width="2.5" stroke-linejoin="round" vector-effect="non-scaling-stroke"/>
<g fill="#ff0000"><ellipse cx="-1.3" cy="0.35" rx="0.1" ry="0.16"/><ellipse cx="0.5" cy="-0.05" rx="0.1" ry="0.16"/></g>
<g fill="#118811"><ellipse cx="0.45" cy="-0.4" rx="0.1" ry="0.16"/><ellipse cx="-0.7" cy="0.7" rx="0.1" ry="0.16"/></g>
</svg>
<use href="#banax"/>
</g>
<!-- banana legends -->
<g font-size="15" fill="#111">
<rect x="1367" y="2058" width="156" height="45" fill="#fff" stroke="#ccc" rx="3"/>
<text x="1376" y="2078" fill="#1f77b4">×</text><text x="1410" y="2077">Test data</text><circle cx="1386" cy="2091" r="5" fill="#f00"/><text x="1410" y="2096">Inducing points</text>
<rect x="1904" y="2057" width="231" height="65" fill="#fff" stroke="#ccc" rx="3"/>
<text x="1913" y="2078" fill="#1f77b4">×</text><text x="1947" y="2077">Test data</text><circle cx="1923" cy="2091" r="5" fill="#f00"/><text x="1947" y="2096">Inducing points for point X</text><circle cx="1923" cy="2110" r="6" fill="#118811"/><text x="1947" y="2115">point X</text>
<rect x="1367" y="2412" width="156" height="45" fill="#fff" stroke="#ccc" rx="3"/>
<text x="1376" y="2432" fill="#1f77b4">×</text><text x="1410" y="2431">Test data</text><circle cx="1386" cy="2445" r="5" fill="#f00"/><text x="1410" y="2450">Inducing points</text>
<rect x="1904" y="2412" width="168" height="65" fill="#fff" stroke="#ccc" rx="3"/>
<text x="1913" y="2432" fill="#1f77b4">×</text><text x="1947" y="2431">Test data</text><circle cx="1923" cy="2445" r="5" fill="#f00"/><text x="1947" y="2450">Inducing points u</text><circle cx="1923" cy="2464" r="5" fill="#118811"/><text x="1947" y="2469">Inducing points v</text>
</g>

<!-- GP toy plots -->
<g font-weight="bold" font-size="22" text-anchor="middle" fill="#111">
<text x="2844" y="874">VSGP</text><text x="3410" y="874">SOLVE</text><text x="2844" y="1222">SWSGP</text><text x="3410" y="1222">IDSGP</text>
</g>
<g transform="translate(2581,879)">
<use href="#gpbase" width="527" height="295"/><use href="#gpA" width="527" height="295"/>
<g stroke="#ff7f0e" stroke-width="2"><path d="M189,17 l6,6 m0,-6 l-6,6"/><path d="M248,17 l6,6 m0,-6 l-6,6"/><path d="M282,17 l6,6 m0,-6 l-6,6"/><path d="M316,17 l6,6 m0,-6 l-6,6"/></g>
<g fill="#ff00ff"><circle cx="142" cy="282" r="4"/><circle cx="188" cy="282" r="4"/><circle cx="235" cy="282" r="4"/><circle cx="334" cy="282" r="4"/></g>
<use href="#gpax"/>
</g>
<g transform="translate(3147,879)">
<use href="#gpbase" width="527" height="295"/><use href="#gpA" width="527" height="295"/>
<g stroke="#ff7f0e" stroke-width="2"><path d="M189,17 l6,6 m0,-6 l-6,6"/><path d="M248,17 l6,6 m0,-6 l-6,6"/><path d="M282,17 l6,6 m0,-6 l-6,6"/><path d="M316,17 l6,6 m0,-6 l-6,6"/></g>
<circle cx="179" cy="282" r="4" fill="#118811"/><circle cx="203" cy="282" r="4" fill="#ff00ff"/><circle cx="245" cy="282" r="4" fill="#ff00ff"/><circle cx="296" cy="282" r="4" fill="#118811"/>
<use href="#gpax"/>
</g>
<g transform="translate(2581,1227)">
<use href="#gpbase" width="527" height="295"/><use href="#gpS" width="527" height="295"/>
<g stroke="#ff7f0e" stroke-width="2"><path d="M189,17 l6,6 m0,-6 l-6,6"/><path d="M248,17 l6,6 m0,-6 l-6,6"/><path d="M282,17 l6,6 m0,-6 l-6,6"/><path d="M316,17 l6,6 m0,-6 l-6,6"/></g>
<g fill="#ff00ff"><circle cx="190" cy="282" r="4"/><circle cx="229" cy="282" r="4"/><circle cx="303" cy="282" r="4"/><circle cx="325" cy="282" r="4"/></g>
<use href="#gpax"/>
</g>
<g transform="translate(3147,1227)">
<use href="#gpbase" width="527" height="295"/><use href="#gpI" width="527" height="295"/>
<g stroke="#ff7f0e" stroke-width="2"><path d="M204,20 l6,6 m0,-6 l-6,6"/><path d="M232,20 l6,6 m0,-6 l-6,6"/></g>
<g fill="#ff00ff"><circle cx="174" cy="282" r="4"/><circle cx="263" cy="282" r="4"/></g>
<text x="263" y="158" font-size="20" text-anchor="middle">★</text>
<use href="#gpax"/>
</g>

<!-- GP legend -->
<g font-size="17" fill="#111">
<rect x="3141" y="1573" width="566" height="102" fill="#fff" stroke="#bbb" stroke-width="2" rx="4"/>
<line x1="3149" y1="1590" x2="3180" y2="1590" stroke="#0000ee" stroke-width="3"/><text x="3198" y="1596">mean prediction</text>
<line x1="3149" y1="1613" x2="3180" y2="1613" stroke="#0000ee" stroke-width="3" stroke-dasharray="7 4"/><text x="3198" y="1619">mean GP prediction</text>
<line x1="3149" y1="1636" x2="3180" y2="1636" stroke="#ff1010" stroke-width="3" stroke-dasharray="7 4"/><text x="3198" y="1642">Standard deviation</text>
<line x1="3149" y1="1659" x2="3180" y2="1659" stroke="#a52a2a" stroke-width="3" stroke-dasharray="7 4"/><text x="3198" y="1665">Standard deviation GP</text>
<circle cx="3463" cy="1590" r="4" fill="#118811"/><text x="3496" y="1596">Inducing points V</text>
<text x="3457" y="1619" fill="#ff7f0e" font-size="15">×</text><text x="3496" y="1619">Initial inducing points</text>
<circle cx="3463" cy="1636" r="4" fill="#ff00ff"/><text x="3496" y="1642">Inducing points</text>
<text x="3455" y="1666" font-size="16">★</text><text x="3496" y="1665">point X</text>
</g>

<!-- Yellow taxi / Airplane -->
<g font-weight="bold" font-size="19" text-anchor="middle" fill="#111"><text x="2913" y="527">Yellow Taxi</text><text x="3365" y="525">Airplane Delays</text></g>
<g transform="translate(2727,539)">
<g stroke="#e8e8e8" stroke-width="1.5"><line x1="0" y1="3" x2="372" y2="3"/><line x1="0" y1="59" x2="372" y2="59"/><line x1="0" y1="115" x2="372" y2="115"/><line x1="0" y1="172" x2="372" y2="172"/><line x1="0" y1="228" x2="372" y2="228"/><line x1="84" y1="0" x2="84" y2="245"/><line x1="152" y1="0" x2="152" y2="245"/><line x1="220" y1="0" x2="220" y2="245"/><line x1="287" y1="0" x2="287" y2="245"/></g>
<svg x="0" y="0" width="372" height="245" viewBox="-0.236 -7.763 5.486 1.089" preserveAspectRatio="none" fill="none" stroke-width="3">
<polyline stroke="#f8766d" vector-effect="non-scaling-stroke" points="0.65,-7.72 0.8,-7.6 1,-7.45 1.3,-7.25 1.6,-7.1 1.9,-7.0 2.0,-6.95 2.1,-6.88 2.3,-6.85 3,-6.82 4,-6.77 5,-6.72"/>
<polyline stroke="#7cae00" vector-effect="non-scaling-stroke" points="0.8,-7.69 1.1,-7.6 1.55,-7.5 1.7,-7.35 1.9,-7.18 2.2,-7.08 2.5,-7.03 2.8,-6.88 3.5,-6.83 5,-6.79"/>
<polyline stroke="#00bfc4" vector-effect="non-scaling-stroke" points="0.55,-7.7 1.0,-7.6 1.3,-7.55 1.5,-7.45 1.7,-7.25 2.0,-7.08 2.3,-7.0 2.45,-6.92 3,-6.88 4,-6.85 5,-6.84"/>
<polyline stroke="#c77cff" vector-effect="non-scaling-stroke" points="0.55,-7.69 1.0,-7.6 1.3,-7.55 1.45,-7.35 1.7,-7.15 2.1,-7.03 2.4,-6.95 2.5,-6.9 3,-6.85 4,-6.81 5,-6.8"/>
</svg>
<path d="M0,0 V245 H372" fill="none" stroke="#333" stroke-width="1.5"/>
<g font-size="12" fill="#444"><text x="-4" y="7" text-anchor="end">7.75</text><text x="-4" y="63" text-anchor="end">7.50</text><text x="-4" y="119" text-anchor="end">7.25</text><text x="-4" y="176" text-anchor="end">7.00</text><text x="-4" y="232" text-anchor="end">6.75</text>
<text x="16" y="262" text-anchor="middle">0</text><text x="84" y="262" text-anchor="middle">1</text><text x="152" y="262" text-anchor="middle">2</text><text x="220" y="262" text-anchor="middle">3</text><text x="287" y="262" text-anchor="middle">4</text><text x="355" y="262" text-anchor="middle">5</text>
<text x="186" y="278" text-anchor="middle" font-size="13">Training time in log10 scale</text>
<text transform="translate(-36,120) rotate(-90)" text-anchor="middle" font-size="13">Negative Test Log−Likelihood</text></g>
<g font-size="12" fill="#222"><rect x="296" y="20" width="12" height="7" fill="#f8766d"/><text x="314" y="28">IDSGP</text><rect x="296" y="37" width="12" height="7" fill="#7cae00"/><text x="314" y="45">SOLVE</text><rect x="296" y="54" width="12" height="7" fill="#00bfc4"/><text x="314" y="62">SWSGP</text><rect x="296" y="71" width="12" height="7" fill="#c77cff"/><text x="314" y="79">VSGP</text></g>
</g>
<g transform="translate(3178,537)">
<g stroke="#e8e8e8" stroke-width="1.5"><line x1="0" y1="83" x2="374" y2="83"/><line x1="0" y1="166" x2="374" y2="166"/><line x1="0" y1="41" x2="374" y2="41"/><line x1="0" y1="124" x2="374" y2="124"/><line x1="0" y1="207" x2="374" y2="207"/><line x1="84" y1="0" x2="84" y2="247"/><line x1="152" y1="0" x2="152" y2="247"/><line x1="220" y1="0" x2="220" y2="247"/><line x1="288" y1="0" x2="288" y2="247"/></g>
<svg x="0" y="0" width="374" height="247" viewBox="-0.235 -0.7 5.49 0.1488" preserveAspectRatio="none" fill="none" stroke-width="3">
<polyline stroke="#7cae00" vector-effect="non-scaling-stroke" points="0.85,-0.686 1.4,-0.68 1.7,-0.665 2.0,-0.635 2.2,-0.62 2.6,-0.61 3,-0.607 4,-0.605 5,-0.603"/>
<polyline stroke="#00bfc4" vector-effect="non-scaling-stroke" points="0.85,-0.687 1.4,-0.681 1.7,-0.667 2.0,-0.636 2.2,-0.62 2.6,-0.611 3,-0.608 4,-0.606 5,-0.605"/>
<polyline stroke="#c77cff" vector-effect="non-scaling-stroke" points="0.85,-0.687 1.4,-0.68 1.6,-0.67 1.9,-0.635 2.2,-0.618 3,-0.607 4,-0.605 5,-0.604"/>
<polyline stroke="#f8766d" vector-effect="non-scaling-stroke" points="0.9,-0.685 1.1,-0.66 1.3,-0.632 1.6,-0.625 2,-0.62 2.3,-0.615 2.6,-0.605 3,-0.588 3.5,-0.577 4,-0.571 5,-0.565"/>
</svg>
<path d="M0,0 H374 V247 H0 Z" fill="none" stroke="#333" stroke-width="1.5"/>
<g font-size="12" fill="#444"><text x="-4" y="87" text-anchor="end">0.65</text><text x="-4" y="170" text-anchor="end">0.60</text>
<text x="16" y="265" text-anchor="middle">0</text><text x="84" y="265" text-anchor="middle">1</text><text x="152" y="265" text-anchor="middle">2</text><text x="220" y="265" text-anchor="middle">3</text><text x="288" y="265" text-anchor="middle">4</text><text x="356" y="265" text-anchor="middle">5</text>
<text x="187" y="281" text-anchor="middle" font-size="13">Training time in log10 scale</text>
<text transform="translate(-36,120) rotate(-90)" text-anchor="middle" font-size="13">Negative Test Log−Likelihood</text></g>
<g font-size="12" fill="#222"><rect x="296" y="22" width="12" height="7" fill="#f8766d"/><text x="314" y="30">IDSGP</text><rect x="296" y="39" width="12" height="7" fill="#7cae00"/><text x="314" y="47">SOLVE</text><rect x="296" y="56" width="12" height="7" fill="#00bfc4"/><text x="314" y="64">SWSGP</text><rect x="296" y="73" width="12" height="7" fill="#c77cff"/><text x="314" y="81">VSGP</text></g>
</g>

<!-- Mini-batch plots -->
<g font-size="11" fill="#222" text-anchor="end">
<text x="2671" y="1728">VSGP (M=512)</text><text x="2671" y="1740">SOLVE (M = 512 + 512)</text><text x="2671" y="1752">SWSGP (H=4)</text><text x="2671" y="1764">SWSGP (H=8)</text><text x="2671" y="1775">SWSGP (H=16)</text><text x="2671" y="1787">SWSGP (H=32)</text><text x="2671" y="1799">SWSGP (H=64)</text><text x="2671" y="1811">SWSGP (H=128)</text><text x="2671" y="1823">IDSGP (M=4)</text><text x="2671" y="1834">IDSGP (M = 8)</text><text x="2671" y="1846">IDSGP (M = 16)</text><text x="2671" y="1858">IDSGP (M = 32)</text><text x="2671" y="1870">IDSGP (M = 64)</text><text x="2671" y="1882">IDSGP (M = 128)</text>
</g>
<g font-size="11" fill="#222" text-anchor="middle">
<text x="2771" y="1713">Mini-batch size = 4</text><text x="2977" y="1713">Mini-batch size = 8</text><text x="3183" y="1713">Mini-batch size = 16</text><text x="3389" y="1713">Mini-batch size = 32</text><text x="3595" y="1713">Mini-batch size = 64</text>
<text x="2771" y="1917">Avg. Neg. Test Log Likelihood</text><text x="2977" y="1917">Avg. Neg. Test Log Likelihood</text><text x="3183" y="1917">Avg. Neg. Test Log Likelihood</text><text x="3389" y="1917">Avg. Neg. Test Log Likelihood</text><text x="3595" y="1917">Avg. Neg. Test Log Likelihood</text>
<text x="2721" y="1904">0</text><text x="2771" y="1904">10</text><text x="2821" y="1904">20</text>
<text x="2942" y="1904">0</text><text x="3016" y="1904">20</text>
<text x="3123" y="1904">−20</text><text x="3157" y="1904">0</text><text x="3212" y="1904">20</text>
<text x="3311" y="1904">−50</text><text x="3336" y="1904">−25</text><text x="3357" y="1904">0</text><text x="3378" y="1904">25</text><text x="3399" y="1904">50</text>
<text x="3516" y="1904">−100</text><text x="3586" y="1904">0</text><text x="3658" y="1904">100</text>
</g>
<g fill="none" stroke="#ccc" stroke-width="1.2">
<rect x="2675" y="1718" width="192" height="165"/><rect x="2880" y="1718" width="194" height="165"/><rect x="3087" y="1718" width="193" height="165"/><rect x="3293" y="1718" width="193" height="165"/><rect x="3499" y="1718" width="193" height="165"/>
</g>
<g stroke-width="2" fill="none">
<polyline stroke="#2ca02c" points="2857,1752 2796,1764 2746,1775 2725,1787 2723,1799 2727,1811"/>
<polyline stroke="#d62728" points="2706,1823 2690,1834 2686,1846 2685,1858 2685,1870 2686,1882"/>
<polyline stroke="#2ca02c" points="3062,1752 2987,1764 2956,1775 2952,1787 2958,1799 2962,1811"/>
<polyline stroke="#d62728" points="2917,1823 2901,1834 2896,1846 2890,1858 2892,1870 2894,1882"/>
<polyline stroke="#2ca02c" points="3268,1752 3203,1764 3197,1775 3203,1787 3212,1799 3214,1811"/>
<polyline stroke="#d62728" points="3135,1823 3120,1834 3108,1846 3099,1858 3097,1870 3100,1882"/>
<polyline stroke="#2ca02c" points="3476,1752 3453,1764 3461,1775 3471,1787 3474,1799 3474,1811"/>
<polyline stroke="#d62728" points="3357,1823 3337,1834 3316,1846 3308,1858 3303,1870 3305,1882"/>
<polyline stroke="#2ca02c" points="3671,1752 3673,1764 3677,1775 3680,1787 3680,1799 3678,1811"/>
<polyline stroke="#d62728" points="3563,1823 3542,1834 3524,1846 3516,1858 3509,1870 3509,1882"/>
</g>
<g fill="#1f77b4"><circle cx="2717" cy="1728" r="2.5"/><circle cx="2938" cy="1728" r="2.5"/><circle cx="3164" cy="1728" r="2.5"/><circle cx="3382" cy="1728" r="2.5"/><circle cx="3574" cy="1728" r="2.5"/></g>
<g fill="#ff7f0e"><circle cx="2715" cy="1740" r="2.5"/><circle cx="2934" cy="1740" r="2.5"/><circle cx="3155" cy="1740" r="2.5"/><circle cx="3368" cy="1740" r="2.5"/><circle cx="3563" cy="1740" r="2.5"/></g>
<g font-size="11" fill="#222"><rect x="3609" y="1821" width="80" height="58" fill="#fff" stroke="#ddd"/><circle cx="3619" cy="1830" r="2" fill="#1f77b4"/><text x="3628" y="1834">VSGP</text><circle cx="3619" cy="1843" r="2" fill="#ff7f0e"/><text x="3628" y="1847">SOLVE</text><circle cx="3619" cy="1856" r="2" fill="#2ca02c"/><text x="3628" y="1860">SWSGP</text><circle cx="3619" cy="1869" r="2" fill="#d62728"/><text x="3628" y="1873">IDSGP</text></g>

<!-- QR -->
<rect x="3506" y="2540" width="198" height="198" fill="url(#qr)"/>
<g fill="#fff" stroke="#000" stroke-width="6"><rect x="3509" y="2543" width="36" height="36"/><rect x="3665" y="2543" width="36" height="36"/><rect x="3509" y="2699" width="36" height="36"/></g>
<g fill="#000"><rect x="3518" y="2552" width="18" height="18"/><rect x="3674" y="2552" width="18" height="18"/><rect x="3518" y="2708" width="18" height="18"/></g>
</svg>
</body></html>
